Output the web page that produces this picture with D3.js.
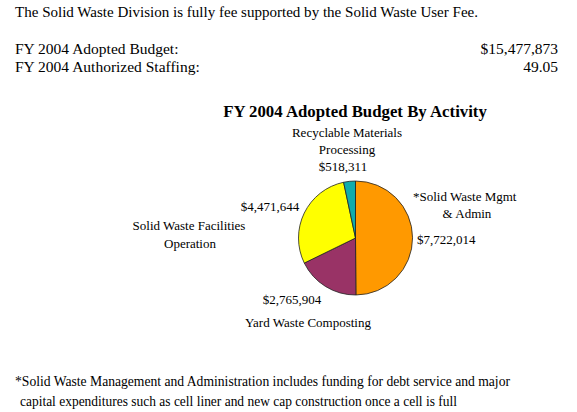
<!DOCTYPE html>
<html lang="en">
<head>
  <meta charset="UTF-8">
  <title>FY 2004 Adopted Budget By Activity</title>
  <style>
    body { margin: 0; background: #fff; }
    svg { display: block; }
  </style>
</head>
<body>
  <svg width="577" height="412" font-family="'Liberation Serif', serif"></svg>
  <script src="https://d3js.org/d3.v7.min.js"></script>
  <script>
  // slices, clockwise from 12 o'clock
  const activities = ["*Solid Waste Mgmt & Admin", "Yard Waste Composting", "Solid Waste Facilities Operation", "Recyclable Materials Processing"];
  const amounts = [7722014, 2765904, 4471644, 518311];
  const sliceColors = ["#ff9900", "#993366", "#ffff00", "#10acac"];

  const summaryLabels = ["FY 2004 Adopted Budget:", "FY 2004 Authorized Staffing:"];
  const summaryValues = ["$15,477,873", "49.05"];

  const svg = d3.select("svg");
  const fmt = d3.format("$,");
  const serif = "'Liberation Serif', serif";

  function txt(x, y, size, s) {
    return svg.append("text")
      .attr("x", x).attr("y", y)
      .attr("font-family", serif)
      .attr("font-size", size)
      .attr("fill", "#000")
      .text(s);
  }

  // header text
  txt(15, 17, 15.5, "The Solid Waste Division is fully fee supported by the Solid Waste User Fee.")
    .attr("textLength", 463).attr("lengthAdjust", "spacingAndGlyphs");

  summaryLabels.forEach((t, i) => {
    txt(15, 54 + i * 18, 15.5, t);
    txt(558, 54 + i * 18, 15.5, summaryValues[i]).attr("text-anchor", "end");
  });

  // chart title
  txt(355, 117, 16.8, "FY 2004 Adopted Budget By Activity")
    .attr("text-anchor", "middle")
    .attr("font-weight", "bold");

  // pie
  const cx = 355.5, cy = 238, r = 57;
  const pie = d3.pie().sort(null)(amounts);
  const arc = d3.arc().innerRadius(0).outerRadius(r);

  const g = svg.append("g").attr("transform", `translate(${cx},${cy})`);
  g.selectAll("path")
    .data(pie)
    .join("path")
    .attr("d", arc)
    .attr("fill", (d, i) => sliceColors[i])
    .attr("stroke", "#222")
    .attr("stroke-width", 0.8);

  // labels: category lines then amount, positioned around the pie
  const labelSpec = [
    { name: ["*Solid Waste Mgmt", "& Admin"], nameX: [413, 467], nameAnchor: ["start", "middle"], nameY: 201, gap: 17, valX: 417, valY: 244, valAnchor: "start" },
    { name: ["Yard Waste Composting"], nameX: [308], nameAnchor: ["middle"], nameY: 327, gap: 17, valX: 292, valY: 304, valAnchor: "middle" },
    { name: ["Solid Waste Facilities", "Operation"], nameX: [189, 190], nameAnchor: ["middle", "middle"], nameY: 230, gap: 18, valX: 270, valY: 211, valAnchor: "middle" },
    { name: ["Recyclable Materials", "Processing"], nameX: [347, 347], nameAnchor: ["middle", "middle"], nameY: 137, gap: 17, valX: 343, valY: 171, valAnchor: "middle" }
  ];

  labelSpec.forEach((s, i) => {
    s.name.forEach((line, j) => {
      txt(s.nameX[j], s.nameY + j * s.gap, 13, line).attr("text-anchor", s.nameAnchor[j]);
    });
    txt(s.valX, s.valY, 13, fmt(amounts[i])).attr("text-anchor", s.valAnchor);
  });

  // footnote
  txt(15, 386, 14, "*Solid Waste Management and Administration includes funding for debt service and major")
    .attr("textLength", 495).attr("lengthAdjust", "spacingAndGlyphs");
  txt(20, 406, 14, "capital expenditures such as cell liner and new cap construction once a cell is full")
    .attr("textLength", 437).attr("lengthAdjust", "spacingAndGlyphs");
  </script>
</body>
</html>
